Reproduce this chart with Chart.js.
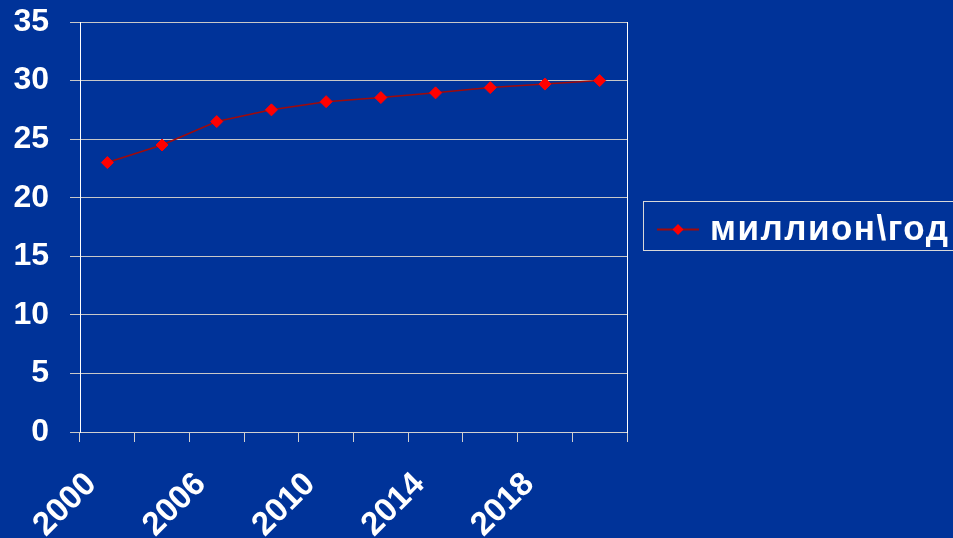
<!DOCTYPE html>
<html>
<head>
<meta charset="utf-8">
<script src="https://cdn.jsdelivr.net/npm/chart.js@4.4.1/dist/chart.umd.min.js"></script>
<style>
  html, body { margin: 0; padding: 0; background: #003399; overflow: hidden; }
  #wrap { position: relative; width: 953px; height: 538px; }
</style>
</head>
<body>
<div id="wrap"><canvas id="c" width="953" height="538"></canvas></div>
<script>
// ---- data ----
const categories = ['2000', '2003', '2006', '2008', '2010', '2012', '2014', '2016', '2018', '2020'];
const tickLabels = ['2000', '', '2006', '', '2010', '', '2014', '', '2018', ''];
const seriesName = 'миллион\\год';
const seriesValues = [23, 24.5, 26.5, 27.5, 28.2, 28.55, 28.95, 29.4, 29.7, 30];
const yTicks = [0, 5, 10, 15, 20, 25, 30, 35];

const FONT = "'Liberation Sans', Arial, sans-serif";
const LINE_COLOR = '#a00a0a';
const MARK_COLOR = '#ff0000';

const legendBox = {
  id: 'legendBox',
  afterDraw(chart) {
    const ctx = chart.ctx;
    ctx.save();
    ctx.strokeStyle = '#d8d8d8';
    ctx.lineWidth = 1;
    ctx.strokeRect(643.5, 201.5, 340, 49);
    ctx.strokeStyle = LINE_COLOR;
    ctx.lineWidth = 2;
    ctx.beginPath();
    ctx.moveTo(657, 229.5);
    ctx.lineTo(699, 229.5);
    ctx.stroke();
    ctx.fillStyle = MARK_COLOR;
    ctx.beginPath();
    ctx.moveTo(678, 224);
    ctx.lineTo(683.5, 229.5);
    ctx.lineTo(678, 235);
    ctx.lineTo(672.5, 229.5);
    ctx.closePath();
    ctx.fill();
    ctx.fillStyle = '#ffffff';
    ctx.font = 'bold 35px ' + FONT;
    if ('letterSpacing' in ctx) ctx.letterSpacing = '1.5px';
    ctx.textBaseline = 'alphabetic';
    ctx.textAlign = 'left';
    ctx.fillText(chart.data.datasets[0].label, 710, 240);
    ctx.restore();
  }
};

new Chart(document.getElementById('c'), {
  type: 'line',
  data: {
    labels: categories,
    datasets: [{
      label: seriesName,
      data: seriesValues,
      borderColor: LINE_COLOR,
      borderWidth: 1.5,
      pointStyle: 'rectRot',
      pointRadius: 6,
      pointHoverRadius: 6,
      pointBackgroundColor: MARK_COLOR,
      pointBorderColor: MARK_COLOR,
      pointBorderWidth: 1,
      tension: 0,
      fill: false
    }]
  },
  options: {
    responsive: false,
    animation: false,
    events: [],
    layout: { padding: { top: 22, right: 326, left: 0, bottom: 0 } },
    plugins: { legend: { display: false }, tooltip: { enabled: false } },
    scales: {
      x: {
        type: 'category',
        offset: true,
        grid: { display: true, offset: true, drawOnChartArea: false, drawTicks: true, tickLength: 10, color: '#d0d0d0', lineWidth: 1 },
        border: { display: true, color: '#d0d0d0', width: 1 },
        ticks: {
          autoSkip: false,
          maxRotation: 45, minRotation: 45,
          padding: 23,
          labelOffset: -16,
          color: '#ffffff',
          font: { family: FONT, size: 33, weight: 'bold' },
          callback: (v, i) => tickLabels[i]
        },
        afterFit(s) { s.height = 106; s.paddingTop = 0; s.paddingBottom = 0; }
      },
      y: {
        min: 0, max: 35,
        afterBuildTicks(s) { s.ticks = yTicks.map(v => ({ value: v })); },
        grid: { color: '#c8c8c8', lineWidth: 1, drawTicks: true, tickLength: 10 },
        border: { display: true, color: '#ffffff', width: 1 },
        ticks: {
          padding: 21,
          color: '#ffffff',
          font: { family: FONT, size: 32, weight: 'bold' }
        },
        afterFit(s) { s.width = 80; s.paddingTop = 0; s.paddingBottom = 0; }
      },
      yR: {
        position: 'right',
        min: 0, max: 35,
        grid: { display: false, drawTicks: false },
        border: { display: true, color: '#ffffff', width: 1 },
        ticks: { display: false },
        afterFit(s) { s.width = 0; s.paddingTop = 0; s.paddingBottom = 0; }
      }
    }
  },
  plugins: [legendBox]
});
</script>
</body>
</html>
